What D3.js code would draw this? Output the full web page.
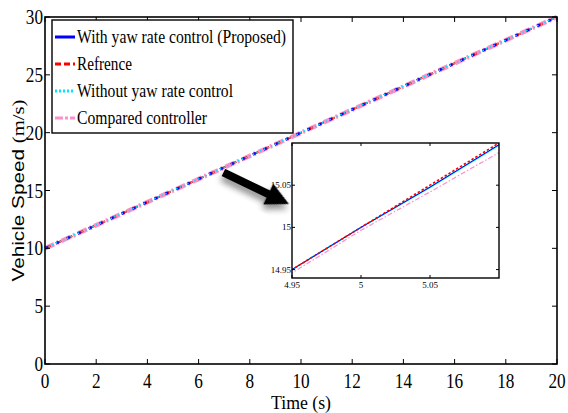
<!DOCTYPE html>
<html>
<head>
<meta charset="utf-8">
<script src="https://cdn.jsdelivr.net/npm/d3@7"></script>
<style>
  html, body { margin: 0; padding: 0; background: #fff; }
  svg { display: block; }
</style>
</head>
<body>
<div id="chart"></div>
<script>
// ── Datos ─────────────────────────────────────────────
const time      = [0, 4.95, 5, 5.05, 5.1, 20];
const reference = [10, 14.95, 15, 15.05, 15.1, 30];
const proposed  = [10, 14.95, 15, 15.0477, 15.098, 30];
const withoutYaw= [10, 14.95, 15, 15.0475, 15.0975, 30];
const compared  = [10, 14.946, 14.9965, 15.042, 15.0887, 30];

const xTicks      = [0, 2, 4, 6, 8, 10, 12, 14, 16, 18, 20];
const yTicks      = [0, 5, 10, 15, 20, 25, 30];
const insetXTicks = [4.95, 5, 5.05];
const insetYTicks = [14.95, 15, 15.05];

const legendLabels = ['With yaw rate control (Proposed)', 'Refrence', 'Without yaw rate control', 'Compared controller'];
const legendWidths = [209, 55, 156, 130];

// flecha (coordenadas en unidades de datos)
const arrowFrom = [6.97, 16.56];
const arrowTo   = [9.53, 13.83];

const SERIF = 'Liberation Serif';
const SANS  = 'Liberation Sans';

const W = 568, H = 413;
const M = { left: 45, right: 557, top: 17, bottom: 364 };

const svg = d3.select('#chart').append('svg').attr('width', W).attr('height', H);

const x = d3.scaleLinear().domain([0, 20]).range([M.left, M.right]);
const y = d3.scaleLinear().domain([0, 30]).range([M.bottom, M.top]);

const defs = svg.append('defs');
const shadow = defs.append('filter').attr('id', 'shadow')
    .attr('x', '-30%').attr('y', '-30%').attr('width', '160%').attr('height', '160%');
shadow.append('feGaussianBlur').attr('in', 'SourceAlpha').attr('stdDeviation', 3);
shadow.append('feOffset').attr('dx', 1).attr('dy', 5).attr('result', 'off');
shadow.append('feComponentTransfer').append('feFuncA').attr('type', 'linear').attr('slope', 0.45);
const merge = shadow.append('feMerge');
merge.append('feMergeNode');
merge.append('feMergeNode').attr('in', 'SourceGraphic');

const txt = (g) => g.append('text').style('font-family', SERIF).attr('fill', '#000');

// ── Series ─────────────────────────────────────────────
const series = [
    { vals: compared,   color: '#ff8fc8', width: 4.5, dash: '10,3,2,3' },
    { vals: reference,  color: '#ff0000', width: 2.2, dash: '6,6' },
    { vals: proposed,   color: '#0000ff', width: 2.5, dash: '3,9' },
    { vals: withoutYaw, color: '#00e5ff', width: 1.6, dash: '1.5,2.5' }
];

const main = svg.append('g');
const line = d3.line().x((d, i) => x(time[i])).y(d => y(d));
series.forEach(s => {
    main.append('path').datum(s.vals)
        .attr('d', line)
        .attr('fill', 'none')
        .attr('stroke', s.color)
        .attr('stroke-width', s.width)
        .attr('stroke-dasharray', s.dash);
});

// ── Ejes ─────────────────────────────────────────────
const frame = svg.append('g');
frame.append('rect')
    .attr('x', M.left).attr('y', M.top)
    .attr('width', M.right - M.left).attr('height', M.bottom - M.top)
    .attr('fill', 'none').attr('stroke', '#000').attr('stroke-width', 1.6);

xTicks.forEach(t => {
    frame.append('line').attr('x1', x(t)).attr('x2', x(t)).attr('y1', M.bottom).attr('y2', M.bottom - 5)
        .attr('stroke', '#000');
    frame.append('line').attr('x1', x(t)).attr('x2', x(t)).attr('y1', M.top).attr('y2', M.top + 5)
        .attr('stroke', '#000');
    txt(frame).attr('x', x(t)).attr('y', M.bottom + 24)
        .attr('text-anchor', 'middle').style('font-size', '20px')
        .attr('textLength', String(t).length * 8.6).attr('lengthAdjust', 'spacingAndGlyphs')
        .text(t);
});
yTicks.forEach(t => {
    frame.append('line').attr('x1', M.left).attr('x2', M.left + 5).attr('y1', y(t)).attr('y2', y(t))
        .attr('stroke', '#000');
    frame.append('line').attr('x1', M.right).attr('x2', M.right - 5).attr('y1', y(t)).attr('y2', y(t))
        .attr('stroke', '#000');
    txt(frame).attr('x', M.left - 2).attr('y', y(t) + 7)
        .attr('text-anchor', 'end').style('font-size', '20px')
        .attr('textLength', String(t).length * 8.6).attr('lengthAdjust', 'spacingAndGlyphs')
        .text(t);
});

txt(svg).attr('x', (M.left + M.right) / 2).attr('y', 409)
    .attr('text-anchor', 'middle').style('font-size', '18px')
    .attr('textLength', 60).attr('lengthAdjust', 'spacingAndGlyphs')
    .text('Time (s)');

const yl = txt(svg)
    .attr('transform', `translate(24,${(M.top + M.bottom) / 2}) rotate(-90)`)
    .attr('text-anchor', 'middle').style('font-size', '17px')
    .attr('textLength', 182).attr('lengthAdjust', 'spacingAndGlyphs');
yl.append('tspan').style('font-family', SANS).text('Vehicle Speed ');
yl.append('tspan').style('font-family', SERIF).text('(m/s)');

// ── Leyenda ─────────────────────────────────────────────
const lg = svg.append('g');
lg.append('rect').attr('x', 52).attr('y', 20).attr('width', 241).attr('height', 113)
    .attr('fill', '#fff').attr('stroke', '#000').attr('stroke-width', 1.4);
const legendStyle = [
    { color: '#0000ff', width: 3,   dash: null },
    { color: '#ff0000', width: 3,   dash: '6,3' },
    { color: '#00e5ff', width: 3,   dash: '2,2' },
    { color: '#ff8fc8', width: 3,   dash: '8,2,3,2' }
];
legendLabels.forEach((lab, i) => {
    const cy = 37 + i * 27;
    lg.append('line').attr('x1', 55).attr('x2', 75).attr('y1', cy).attr('y2', cy)
        .attr('stroke', legendStyle[i].color).attr('stroke-width', legendStyle[i].width)
        .attr('stroke-dasharray', legendStyle[i].dash);
    txt(lg).attr('x', 77).attr('y', cy + 6)
        .style('font-size', '19px')
        .attr('textLength', legendWidths[i]).attr('lengthAdjust', 'spacingAndGlyphs')
        .text(lab);
});

// ── Flecha ─────────────────────────────────────────────
const ax0 = x(arrowFrom[0]), ay0 = y(arrowFrom[1]);
const ax1 = x(arrowTo[0]),   ay1 = y(arrowTo[1]);
const ang = Math.atan2(ay1 - ay0, ax1 - ax0);
const len = Math.hypot(ax1 - ax0, ay1 - ay0);
const headL = 23, headW = 11.5, shaftW = 4;
const pts = [
    [0, -shaftW], [len - headL, -shaftW], [len - headL, -headW],
    [len, 0], [len - headL, headW], [len - headL, shaftW], [0, shaftW]
];
svg.append('polygon')
    .attr('points', pts.map(p => p.join(',')).join(' '))
    .attr('transform', `translate(${ax0},${ay0}) rotate(${ang * 180 / Math.PI})`)
    .attr('fill', '#000')
    .attr('filter', 'url(#shadow)');

// ── Ampliación ─────────────────────────────────────────────
const I = { left: 292, right: 499, top: 143, bottom: 278 };
const ix = d3.scaleLinear().domain([4.95, 5.1]).range([I.left, I.right]);
const iy = d3.scaleLinear().domain([14.94, 15.1]).range([I.bottom, I.top]);

defs.append('clipPath').attr('id', 'insetClip').append('rect')
    .attr('x', I.left).attr('y', I.top).attr('width', I.right - I.left).attr('height', I.bottom - I.top);

const inset = svg.append('g');
inset.append('rect').attr('x', I.left).attr('y', I.top)
    .attr('width', I.right - I.left).attr('height', I.bottom - I.top)
    .attr('fill', '#fff');
const ig = inset.append('g').attr('clip-path', 'url(#insetClip)');
const iline = d3.line().x((d, i) => ix(time[i])).y(d => iy(d));
[
    { vals: compared,   color: '#ff8fc8', width: 1.2, dash: '5,2,1.5,2' },
    { vals: withoutYaw, color: '#00e5ff', width: 1.6, dash: null },
    { vals: proposed,   color: '#0000ff', width: 1.0, dash: null },
    { vals: reference,  color: '#ff0000', width: 1.6, dash: '2.5,2' }
].forEach(s => {
    ig.append('path').datum(s.vals).attr('d', iline)
        .attr('fill', 'none').attr('stroke', s.color)
        .attr('stroke-width', s.width).attr('stroke-dasharray', s.dash);
});
inset.append('rect').attr('x', I.left).attr('y', I.top)
    .attr('width', I.right - I.left).attr('height', I.bottom - I.top)
    .attr('fill', 'none').attr('stroke', '#000').attr('stroke-width', 1.4);

insetXTicks.forEach(t => {
    inset.append('line').attr('x1', ix(t)).attr('x2', ix(t)).attr('y1', I.bottom).attr('y2', I.bottom - 3).attr('stroke', '#000');
    inset.append('line').attr('x1', ix(t)).attr('x2', ix(t)).attr('y1', I.top).attr('y2', I.top + 3).attr('stroke', '#000');
    txt(inset).attr('x', ix(t)).attr('y', I.bottom + 10)
        .attr('text-anchor', 'middle').style('font-size', '9px')
        .text(t);
});
insetYTicks.forEach(t => {
    inset.append('line').attr('x1', I.left).attr('x2', I.left + 3).attr('y1', iy(t)).attr('y2', iy(t)).attr('stroke', '#000');
    inset.append('line').attr('x1', I.right).attr('x2', I.right - 3).attr('y1', iy(t)).attr('y2', iy(t)).attr('stroke', '#000');
    txt(inset).attr('x', I.left - 1).attr('y', iy(t) + 3)
        .attr('text-anchor', 'end').style('font-size', '9px')
        .text(t);
});
</script>
</body>
</html>
